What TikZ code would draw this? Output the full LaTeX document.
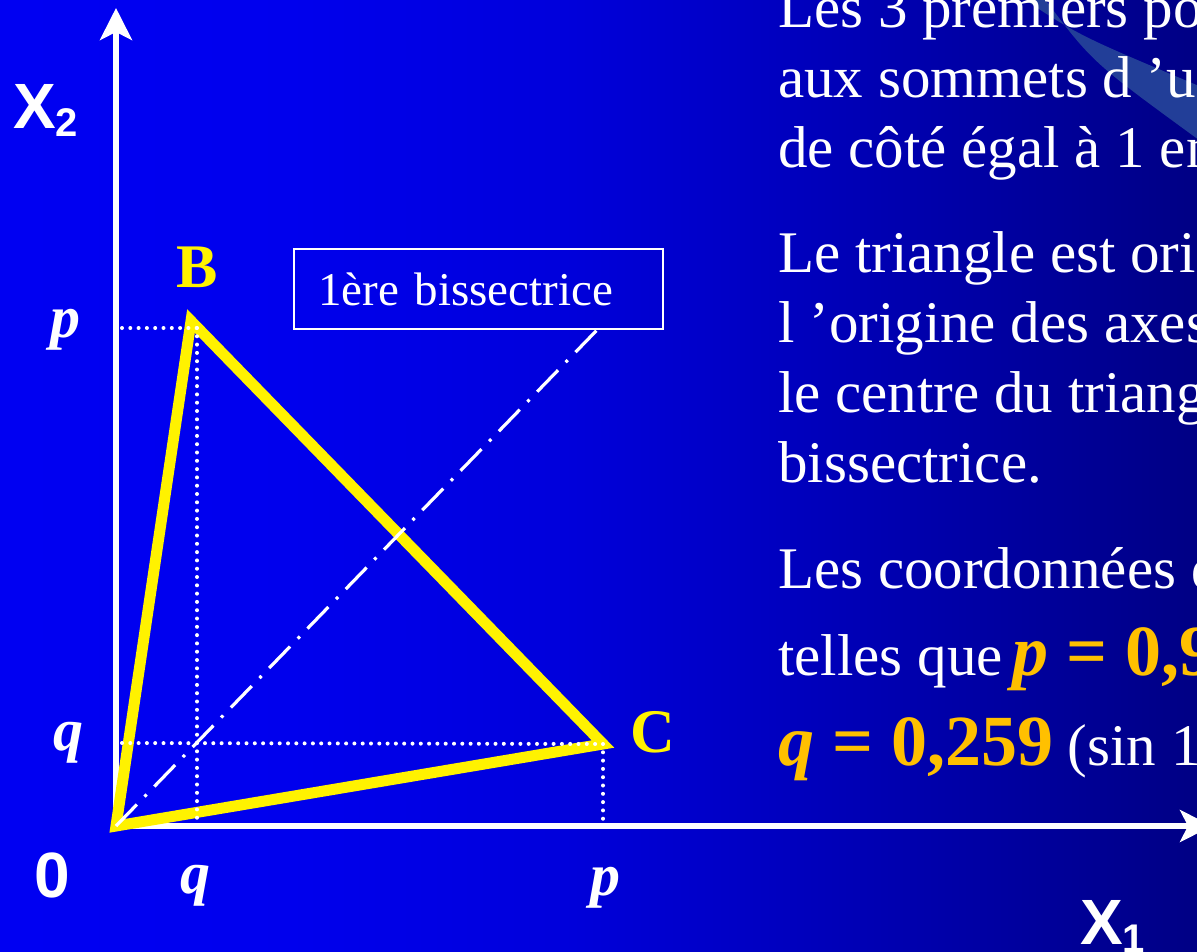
\documentclass[tikz,border=0pt]{standalone}
\usepackage{fontspec}
\setmainfont{Liberation Serif}
\newfontfamily\arialfont{Liberation Sans}
\usetikzlibrary{arrows.meta}
\definecolor{gold}{RGB}{255,192,0}
\definecolor{stripecol}{RGB}{34,62,152}
\pgfdeclarehorizontalshading{bgshade}{100bp}{rgb(0bp)=(0,0,0.95); rgb(25bp)=(0,0,0.95); rgb(37bp)=(0,0,0.93); rgb(48.5bp)=(0,0,0.86); rgb(57bp)=(0,0,0.76); rgb(75bp)=(0,0,0.52); rgb(100bp)=(0,0,0.52)}
\tikzset{
  body/.style={anchor=base west, inner sep=0pt, text=white, font=\fontsize{59}{70}\selectfont},
  axlabel/.style={anchor=base west, inner sep=0pt, text=white, font=\fontsize{64}{64}\arialfont\bfseries},
  coordlabel/.style={anchor=base west, inner sep=0pt, text=white, font=\fontsize{60}{60}\selectfont\bfseries\itshape},
  vertexlabel/.style={anchor=base west, inner sep=0pt, text=yellow, font=\fontsize{62}{62}\selectfont\bfseries},
  axisline/.style={draw=white, line width=5.5pt, -{Stealth[length=32pt, width=32pt, inset=8pt]}},
  triline/.style={draw=yellow, line width=11pt, line join=miter},
  dotline/.style={draw=white, line width=4pt, line cap=round, dash pattern=on 0pt off 8.3pt},
  dashdotline/.style={draw=white, line width=3.2pt, dash pattern=on 30pt off 11pt on 3pt off 11pt},
  calloutbox/.style={draw=white, line width=2pt, anchor=north west, inner xsep=24pt, inner ysep=0pt,
    text width=321pt, align=left, minimum height=80pt, text=white, font=\fontsize{47}{47}\selectfont}
}
\begin{document}
\begin{tikzpicture}[x=1pt,y=-1pt]
\useasboundingbox (0,0) rectangle (1197,951);
\shade[shading=bgshade] (0,0) rectangle (1197,951);
\fill[stripecol] (1022,-2) .. controls (1080,36) .. (1199,86) -- (1199,140) .. controls (1092,62) .. (1044,-2) -- cycle;

% coordinates
\coordinate (O) at (116,826);
\coordinate (Ytop) at (116,8);
\coordinate (Xend) at (1212,826);
\coordinate (B) at (191,321);
\coordinate (C) at (603,744);
\coordinate (Bd) at (197,328);
\coordinate (pY) at (122,328);
\coordinate (qX) at (197,826);
\coordinate (qY) at (122,743);
\coordinate (pX) at (603,826);

% axes
\draw[axisline] (O) -- (Ytop);
\draw[axisline] (O) -- (Xend);

% triangle
\draw[triline] (O) -- (B) -- (C) -- cycle;

% dotted projections
\draw[dotline] (pY) -- (Bd);
\draw[dotline] (Bd) -- (qX);
\draw[dotline] (qY) -- (C);
\draw[dotline] (C) -- (pX);

% callout box and bisector
\node[calloutbox] (box) at (293,248) {1ère bissectrice};
\coordinate (bend) at ([xshift=304pt]box.south west);
\draw[dashdotline] (O) -- (bend);

% axis labels
\node[axlabel] (x2) at (13,128) {X\raisebox{-8pt}{\fontsize{40}{40}\selectfont 2}};
\node[axlabel] (x1) at (1080,944) {X\raisebox{-8pt}{\fontsize{40}{40}\selectfont 1}};
\node[axlabel] (zero) at (34,897) {0};

% coordinate labels
\node[coordlabel] (pl) at (50,337) {p};
\node[coordlabel] (ql) at (53,750) {q};
\node[coordlabel] (qb) at (180,893) {q};
\node[coordlabel] (pb) at (590,895) {p};

% vertex labels
\node[vertexlabel] (Blab) at (176,287) {B};
\node[vertexlabel] (Clab) at (630,752) {C};

% right text
\node[body] (t1) at (778,27) {Les 3 premiers po};
\node[body] (t2) at (778,97) {aux sommets d ’un};
\node[body] (t3) at (778,167) {de côté égal à 1 en};
\node[body] (t4) at (778,272) {Le triangle est orie};
\node[body] (t5) at (778,342) {l ’origine des axes};
\node[body] (t6) at (778,412) {le centre du triang};
\node[body] (t7) at (778,482) {bissectrice.};
\node[body] (t8) at (778,588) {Les coordonnées d};
\node[body] (t9) at (778,675) {telles que\,{\color{gold}\fontsize{72}{72}\selectfont\bfseries\textit{p} = 0,9}};
\node[body] (t10) at (778,765) {{\color{gold}\fontsize{72}{72}\selectfont\bfseries\textit{q} = 0,259} (sin 1};
\end{tikzpicture}
\end{document}
